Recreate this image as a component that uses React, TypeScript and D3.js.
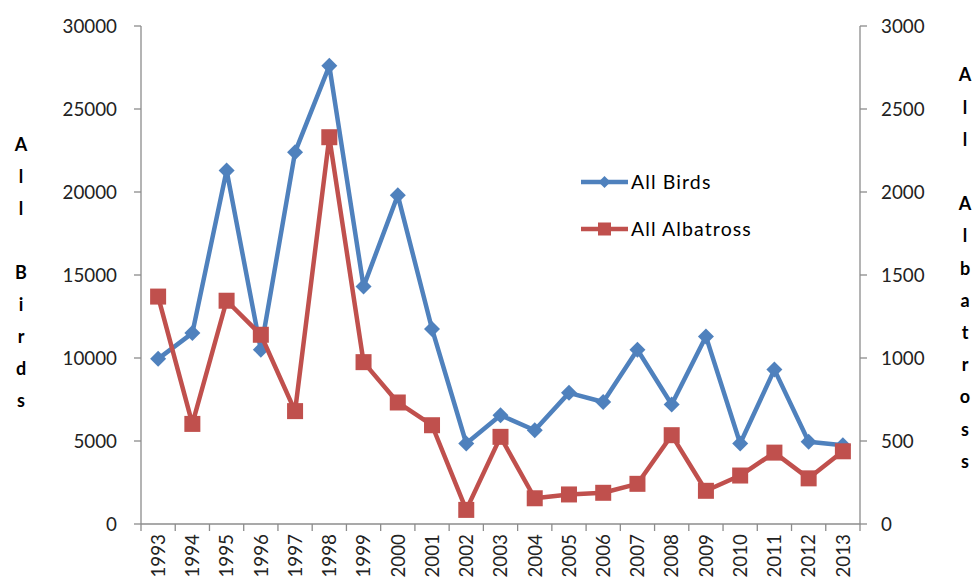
import React from "react";
import * as d3 from "d3";

const years = ["1993","1994","1995","1996","1997","1998","1999","2000","2001","2002","2003","2004","2005","2006","2007","2008","2009","2010","2011","2012","2013"];
const allBirds = [9950, 11500, 21300, 10500, 22400, 27600, 14300, 19800, 11750, 4850, 6550, 5650, 7900, 7350, 10500, 7200, 11300, 4850, 9300, 4950, 4750];
const allAlbatross = [1370, 603, 1345, 1140, 680, 2330, 975, 732, 595, 85, 525, 155, 178, 188, 242, 535, 200, 292, 430, 275, 438];
const leftTicks = [0, 5000, 10000, 15000, 20000, 25000, 30000];
const rightTicks = [0, 500, 1000, 1500, 2000, 2500, 3000];
const leftTitle = "All Birds";
const rightTitle = "All Albatross";
const seriesNames = ["All Birds", "All Albatross"];

const W = 973, H = 582;
const BLUE = "#4F81BD", RED = "#C0504D", AXIS = "#8C8C8C", TXT = "#222";
const FONT = "Lato, 'Open Sans', sans-serif";

export default function App() {
  const x0 = 141, x1 = 860, yTop = 26, yBot = 524;
  const x = d3.scaleBand<string>().domain(years).range([x0, x1]);
  const yL = d3.scaleLinear().domain([0, 30000]).range([yBot, yTop]);
  const yR = d3.scaleLinear().domain([0, 3000]).range([yBot, yTop]);
  const cx = (yr: string) => (x(yr) as number) + x.bandwidth() / 2;

  const lineL = d3.line<number>().x((_, i) => cx(years[i])).y((v) => yL(v));
  const lineR = d3.line<number>().x((_, i) => cx(years[i])).y((v) => yR(v));

  const diamond = (px: number, py: number, r: number) =>
    `M${px},${py - r}L${px + r},${py}L${px},${py + r}L${px - r},${py}Z`;

  const boundaries = years.map((yr) => x(yr) as number).concat([x1]);

  return (
    <svg width={W} height={H} style={{ position: "absolute", left: 0, top: 0, background: "#fff" }} fontFamily={FONT}>
      <rect x={0} y={0} width={W} height={H} fill="#fff" />
      {/* axes */}
      <line x1={x0} x2={x0} y1={yTop} y2={yBot} stroke={AXIS} strokeWidth={1.3} />
      <line x1={x1} x2={x1} y1={yTop} y2={yBot} stroke={AXIS} strokeWidth={1.3} />
      <line x1={x0} x2={x1} y1={yBot} y2={yBot} stroke={AXIS} strokeWidth={1.3} />
      {leftTicks.map((t) => (
        <g key={"l" + t}>
          <line x1={x0 - 7} x2={x0} y1={yL(t)} y2={yL(t)} stroke={AXIS} strokeWidth={1.3} />
          <text x={117} y={yL(t)} dy="0.36em" textAnchor="end" fontSize={18.8} fill={TXT}>{t}</text>
        </g>
      ))}
      {rightTicks.map((t) => (
        <g key={"r" + t}>
          <line x1={x1} x2={x1 + 7} y1={yR(t)} y2={yR(t)} stroke={AXIS} strokeWidth={1.3} />
          <text x={881} y={yR(t)} dy="0.36em" textAnchor="start" fontSize={18.8} fill={TXT}>{t}</text>
        </g>
      ))}
      {boundaries.map((b, i) => (
        <line key={"b" + i} x1={b} x2={b} y1={yBot} y2={yBot + 7} stroke={AXIS} strokeWidth={1.3} />
      ))}
      {years.map((yr) => (
        <text key={"x" + yr} transform={`translate(${cx(yr)},${yBot + 10}) rotate(-90)`} dy="0.36em" textAnchor="end" fontSize={18.8} fill={TXT}>{yr}</text>
      ))}
      {/* axis titles */}
      {leftTitle.split("").map((c, i) => c === " " ? null : (
        <text key={"lt" + i} x={21} y={145 + i * 32} dy="0.36em" textAnchor="middle" fontSize={18} fontWeight="bold" fill="#000">{c}</text>
      ))}
      {rightTitle.split("").map((c, i) => c === " " ? null : (
        <text key={"rt" + i} x={965} y={75 + i * 32.2} dy="0.36em" textAnchor="middle" fontSize={18} fontWeight="bold" fill="#000">{c}</text>
      ))}
      {/* series */}
      <path d={lineL(allBirds) || ""} fill="none" stroke={BLUE} strokeWidth={4.5} strokeLinejoin="round" />
      {allBirds.map((v, i) => (
        <path key={"d" + i} d={diamond(cx(years[i]), yL(v), 8)} fill={BLUE} />
      ))}
      <path d={lineR(allAlbatross) || ""} fill="none" stroke={RED} strokeWidth={4.5} strokeLinejoin="round" />
      {allAlbatross.map((v, i) => (
        <rect key={"s" + i} x={cx(years[i]) - 8} y={yR(v) - 8} width={16} height={16} fill={RED} />
      ))}
      {/* legend */}
      <g>
        <line x1={581} x2={628} y1={182} y2={182} stroke={BLUE} strokeWidth={4.5} />
        <path d={diamond(604.5, 182, 6)} fill={BLUE} />
        <text x={631} y={182} dy="0.36em" fontSize={19.5} letterSpacing={1.1} fill="#000">{seriesNames[0]}</text>
        <line x1={581} x2={628} y1={229} y2={229} stroke={RED} strokeWidth={4.5} />
        <rect x={598} y={222.5} width={13} height={13} fill={RED} />
        <text x={631} y={229} dy="0.36em" fontSize={19.5} letterSpacing={1.1} fill="#000">{seriesNames[1]}</text>
      </g>
    </svg>
  );
}
